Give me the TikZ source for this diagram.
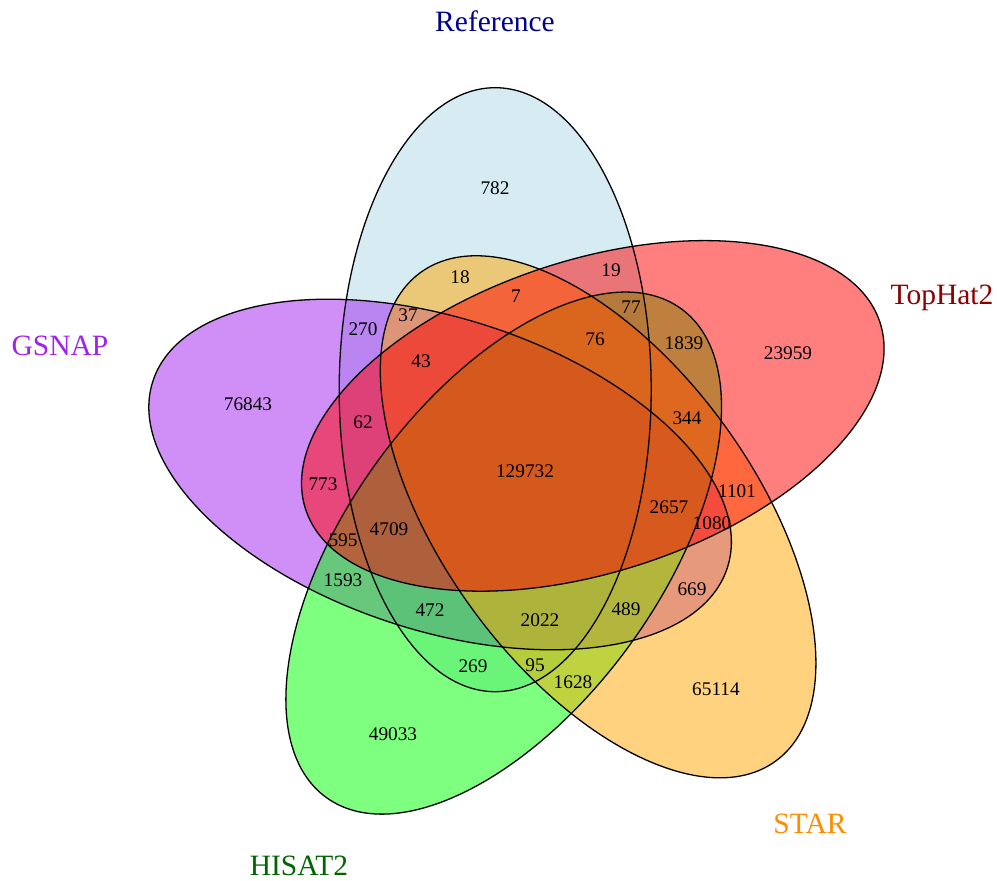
\documentclass[tikz,border=0pt]{standalone}
\usepackage{fontspec}
\setmainfont{Liberation Serif}
\definecolor{refc}{RGB}{173,216,230}
\definecolor{gsnapc}{RGB}{160,32,240}
\definecolor{hisatc}{RGB}{0,255,0}
\definecolor{starc}{RGB}{255,165,0}
\definecolor{tophatc}{RGB}{255,0,0}
\definecolor{reftxt}{RGB}{0,0,139}
\definecolor{tophattxt}{RGB}{139,0,0}
\definecolor{gsnaptxt}{RGB}{160,32,240}
\definecolor{hisattxt}{RGB}{0,100,0}
\definecolor{startxt}{RGB}{255,140,0}
\begin{document}
\begin{tikzpicture}[x=1pt,y=1pt,
  setfill/.style={fill opacity=0.5},
  setline/.style={draw=black, line width=1.3pt},
  num/.style={inner sep=0pt, font=\fontsize{19.3}{20}\selectfont},
  cat/.style={inner sep=0pt, anchor=base, font=\fontsize{29.5}{30}\selectfont}]
\useasboundingbox (0,0) rectangle (997,881);
% fills (drawing order: Reference, GSNAP, HISAT2, STAR, TopHat2)
\fill[refc, setfill, rotate around={0:(495.2,491.3)}] (495.2,491.3) ellipse [x radius=156, y radius=302];
\fill[gsnapc, setfill, rotate around={72:(440.1,406.5)}] (440.1,406.5) ellipse [x radius=156, y radius=302];
\fill[hisatc, setfill, rotate around={144:(503.7,327.9)}] (503.7,327.9) ellipse [x radius=156, y radius=302];
\fill[starc, setfill, rotate around={216:(598.1,364.2)}] (598.1,364.2) ellipse [x radius=156, y radius=302];
\fill[tophatc, setfill, rotate around={288:(592.8,465.1)}] (592.8,465.1) ellipse [x radius=156, y radius=302];
% outlines
\draw[setline, rotate around={0:(495.2,491.3)}] (495.2,491.3) ellipse [x radius=156, y radius=302];
\draw[setline, rotate around={72:(440.1,406.5)}] (440.1,406.5) ellipse [x radius=156, y radius=302];
\draw[setline, rotate around={144:(503.7,327.9)}] (503.7,327.9) ellipse [x radius=156, y radius=302];
\draw[setline, rotate around={216:(598.1,364.2)}] (598.1,364.2) ellipse [x radius=156, y radius=302];
\draw[setline, rotate around={288:(592.8,465.1)}] (592.8,465.1) ellipse [x radius=156, y radius=302];
% counts
\node[num] (n782) at (495,693) {782};
\node[num] (n18) at (460,604) {18};
\node[num] (n19) at (611,611) {19};
\node[num] (n7) at (516,585) {7};
\node[num] (n77) at (631,574) {77};
\node[num] (n270) at (363,552) {270};
\node[num] (n37) at (408,566) {37};
\node[num] (n76) at (595,542) {76};
\node[num] (n43) at (421,520) {43};
\node[num] (n62) at (363,459) {62};
\node[num] (n1839) at (684,538) {1839};
\node[num] (n23959) at (788,528) {23959};
\node[num] (n76843) at (248,477) {76843};
\node[num] (n344) at (687,463) {344};
\node[num] (n129732) at (525,410) {129732};
\node[num] (n773) at (323,397) {773};
\node[num] (n1101) at (737,390) {1101};
\node[num] (n2657) at (669,374) {2657};
\node[num] (n1080) at (712,358) {1080};
\node[num] (n595) at (343,341) {595};
\node[num] (n4709) at (389,352) {4709};
\node[num] (n1593) at (343,301) {1593};
\node[num] (n669) at (692,292) {669};
\node[num] (n472) at (430,271) {472};
\node[num] (n2022) at (540,261) {2022};
\node[num] (n489) at (626,272) {489};
\node[num] (n269) at (473,215) {269};
\node[num] (n95) at (535,216) {95};
\node[num] (n1628) at (573,199) {1628};
\node[num] (n65114) at (716,192) {65114};
\node[num] (n49033) at (393,147) {49033};
% category labels
\node[cat, text=reftxt] (lref) at (495,849) {Reference};
\node[cat, text=tophattxt] (ltop) at (942,576) {TopHat2};
\node[cat, text=gsnaptxt] (lgsnap) at (60,525) {GSNAP};
\node[cat, text=hisattxt] (lhisat) at (299,5) {HISAT2};
\node[cat, text=startxt] (lstar) at (810,47) {STAR};
\end{tikzpicture}
\end{document}
